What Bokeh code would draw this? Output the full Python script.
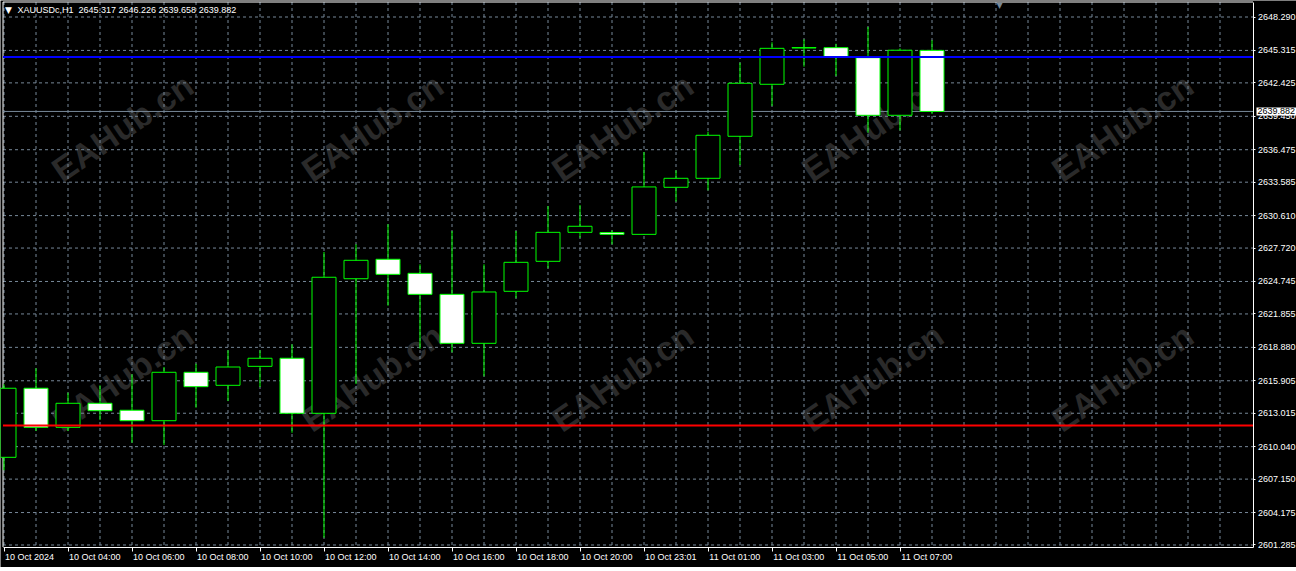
from bokeh.plotting import figure
from bokeh.models import Range1d, FixedTicker, NumeralTickFormatter, Label, ColumnDataSource
from bokeh.embed import file_html
from bokeh.resources import INLINE

# ---------------- data ----------------
symbol = "XAUUSDc,H1"
opens  = [2609.09, 2615.24, 2611.76, 2613.90, 2613.28, 2612.35, 2616.66, 2615.50, 2617.19, 2617.91,
          2613.01, 2624.99, 2626.72, 2625.47, 2623.60, 2619.24, 2623.87, 2626.54, 2629.12, 2629.10,
          2628.94, 2633.13, 2633.93, 2637.67, 2642.30, 2645.53, 2645.56, 2644.67, 2639.54, 2645.317]
highs  = [2615.59, 2617.02, 2614.84, 2615.50, 2616.48, 2617.13, 2617.43, 2618.62, 2618.62, 2619.15,
          2627.37, 2628.05, 2629.84, 2626.27, 2629.24, 2626.27, 2629.24, 2631.46, 2631.55, 2629.30,
          2636.27, 2634.64, 2638.08, 2644.22, 2646.04, 2646.30, 2645.91, 2647.40, 2645.50, 2646.226]
lows   = [2607.94, 2611.43, 2611.43, 2612.41, 2610.39, 2610.19, 2613.51, 2614.10, 2615.35, 2611.28,
          2601.93, 2615.62, 2622.59, 2618.76, 2618.44, 2616.30, 2623.25, 2625.92, 2628.64, 2628.05,
          2628.90, 2631.85, 2632.86, 2635.11, 2640.37, 2643.87, 2643.04, 2637.99, 2638.20, 2639.658]
closes = [2615.24, 2611.76, 2613.90, 2613.24, 2612.35, 2616.66, 2615.38, 2617.13, 2617.91, 2613.01,
          2625.12, 2626.63, 2625.38, 2623.60, 2619.24, 2623.81, 2626.45, 2629.12, 2629.66, 2628.94,
          2633.16, 2633.93, 2637.76, 2642.39, 2645.50, 2645.57, 2644.73, 2639.54, 2645.33, 2639.882]

price_ticks = [2648.290, 2645.315, 2642.425, 2639.450, 2636.475, 2633.585, 2630.610, 2627.720,
               2624.745, 2621.855, 2618.880, 2615.905, 2613.015, 2610.040, 2607.150, 2604.175, 2601.285]
time_tick_index = [0, 2, 4, 6, 8, 10, 12, 14, 16, 18, 20, 22, 24, 26, 28]
time_labels = ["10 Oct 2024", "10 Oct 04:00", "10 Oct 06:00", "10 Oct 08:00", "10 Oct 10:00",
               "10 Oct 12:00", "10 Oct 14:00", "10 Oct 16:00", "10 Oct 18:00", "10 Oct 20:00",
               "10 Oct 23:01", "11 Oct 01:00", "11 Oct 03:00", "11 Oct 05:00", "11 Oct 07:00"]
bid_price = 2639.882
blue_level = 2644.73
red_level = 2611.92
watermark = "EAHub.cn"

# ---------------- layout helpers (pixel -> data) ----------------
W, H = 1296, 567
PXU = 32.0          # pixels per bar
PPY = 0.089025      # price per pixel
FONT = "Liberation Sans"
GRID = "#778899"
GREEN = "#00ff00"

def px2x(px):
    return (px - 3.5) / PXU

def py2y(py):
    return 2648.29 - (py - 16.5) * PPY

X0, X1 = px2x(0), px2x(W)
Y0, Y1 = py2y(H), py2y(0)
X_LEFT, X_AXIS = px2x(2.5), px2x(1252.5)
Y_TOP, Y_AXIS = py2y(1.5), py2y(546.5)

p = figure(width=W, height=H, x_range=Range1d(X0, X1), y_range=Range1d(Y0, Y1),
           y_axis_location="right", output_backend="svg", toolbar_location=None,
           background_fill_color="black", border_fill_color="black",
           min_border_left=0, min_border_top=0, min_border_bottom=0, min_border_right=0,
           outline_line_color=None)
p.xgrid.visible = False
p.ygrid.visible = False

# right price axis (inside the canvas at the chart's right edge)
p.yaxis.fixed_location = X_AXIS
p.yaxis.bounds = (Y_AXIS, Y_TOP)
p.yaxis.ticker = FixedTicker(ticks=price_ticks)
p.yaxis.formatter = NumeralTickFormatter(format="0.000")
p.yaxis.major_label_text_font = FONT
p.yaxis.major_label_text_font_size = "9px"
p.yaxis.major_label_text_color = "white"
p.yaxis.axis_line_color = "white"
p.yaxis.major_tick_line_color = "white"
p.yaxis.major_tick_out = 2
p.yaxis.major_tick_in = 0
p.yaxis.minor_tick_line_color = None
p.yaxis.major_label_standoff = 3

# bottom time axis: tick marks at the bars (minor ticks), texts left-aligned after each mark
CHAR_W = {" ": 0.278, "O": 0.778, "c": 0.5, "t": 0.278, ":": 0.278}
def text_px(s, size=9):
    return size * sum(CHAR_W.get(ch, 0.556) for ch in s)

label_pos = [i + (text_px(t) / 2 + 1) / PXU for i, t in zip(time_tick_index, time_labels)]
p.xaxis.fixed_location = Y_AXIS
p.xaxis.bounds = (X_LEFT, X_AXIS)
p.xaxis.ticker = FixedTicker(ticks=label_pos, minor_ticks=time_tick_index)
p.xaxis.major_label_overrides = {pos: t for pos, t in zip(label_pos, time_labels)}
p.xaxis.major_label_text_font = FONT
p.xaxis.major_label_text_font_size = "9px"
p.xaxis.major_label_text_color = "white"
p.xaxis.axis_line_color = "white"
p.xaxis.major_tick_line_color = None
p.xaxis.major_tick_out = 4
p.xaxis.major_tick_in = 0
p.xaxis.minor_tick_line_color = "white"
p.xaxis.minor_tick_out = 4
p.xaxis.minor_tick_in = 0
p.xaxis.major_label_standoff = 1

# watermarks
for cx in (122, 372, 622, 872, 1122):
    for cy in (127, 377):
        p.add_layout(Label(x=px2x(cx), y=py2y(cy), text=watermark, angle=0.6,
                           text_align="center", text_baseline="middle",
                           text_font=FONT, text_font_style="bold",
                           text_font_size="34px", text_color="#2a2a2a", level="underlay"))

# dashed grid, limited to the chart area
vgrid = list(range(0, 39))
p.segment(x0=vgrid, y0=[Y_TOP] * len(vgrid), x1=vgrid, y1=[Y_AXIS] * len(vgrid),
          line_color=GRID, line_width=1, line_dash="3 3")
p.segment(x0=[X_LEFT] * len(price_ticks), y0=price_ticks, x1=[X_AXIS] * len(price_ticks), y1=price_ticks,
          line_color=GRID, line_width=1, line_dash="3 3")

# chart border (left, top)
p.segment(x0=[X_LEFT, X_LEFT], y0=[Y_AXIS, Y_TOP], x1=[X_LEFT, X_AXIS], y1=[Y_TOP, Y_TOP],
          line_color="white", line_width=1)

# bid line under candles
p.segment(x0=[X_LEFT], y0=[bid_price], x1=[X_AXIS], y1=[bid_price], line_color=GRID, line_width=1)

# candles
idx = list(range(len(opens)))
src = ColumnDataSource(dict(
    x=idx,
    low=lows, high=highs,
    top=[max(o, c) for o, c in zip(opens, closes)],
    bottom=[min(o, c) for o, c in zip(opens, closes)],
    fill=["black" if c >= o else "white" for o, c in zip(opens, closes)],
))
p.segment(x0="x", y0="low", x1="x", y1="high", source=src, line_color=GREEN, line_width=1)
p.vbar(x="x", width=0.75, top="top", bottom="bottom", source=src,
       fill_color="fill", line_color=GREEN, line_width=1)

# level lines
p.segment(x0=[X_LEFT], y0=[blue_level], x1=[X_AXIS], y1=[blue_level], line_color="#0000ff", line_width=2)
p.segment(x0=[X_LEFT], y0=[red_level], x1=[X_AXIS], y1=[red_level], line_color="#ff0000", line_width=2)

# chart-shift marker at the top
p.add_layout(Label(x=px2x(999), y=py2y(0.5), text="▼", text_font="DejaVu Sans", text_font_size="8px",
                   text_color=GRID, text_align="center", text_baseline="top"))

# title
p.add_layout(Label(x=px2x(4.5), y=py2y(9), text="▼", text_font="DejaVu Sans", text_font_size="9px",
                   text_color="white", text_align="left", text_baseline="middle"))
p.add_layout(Label(x=px2x(17), y=py2y(9.5),
                   text=f"{symbol}\u00a0 " + " ".join(f"{v:.3f}" for v in (opens[-1], highs[-1], lows[-1], closes[-1])),
                   text_font=FONT, text_font_size="9px", text_color="white",
                   text_align="left", text_baseline="middle"))

# current bid price box on the price scale
p.add_layout(Label(x=px2x(1256), y=bid_price, text=f"{bid_price:.3f}", text_font=FONT,
                   text_font_size="9px", text_color="black", text_align="left", text_baseline="middle",
                   background_fill_color="white", padding=1))

open("out.html", "w").write(file_html(p, INLINE))
